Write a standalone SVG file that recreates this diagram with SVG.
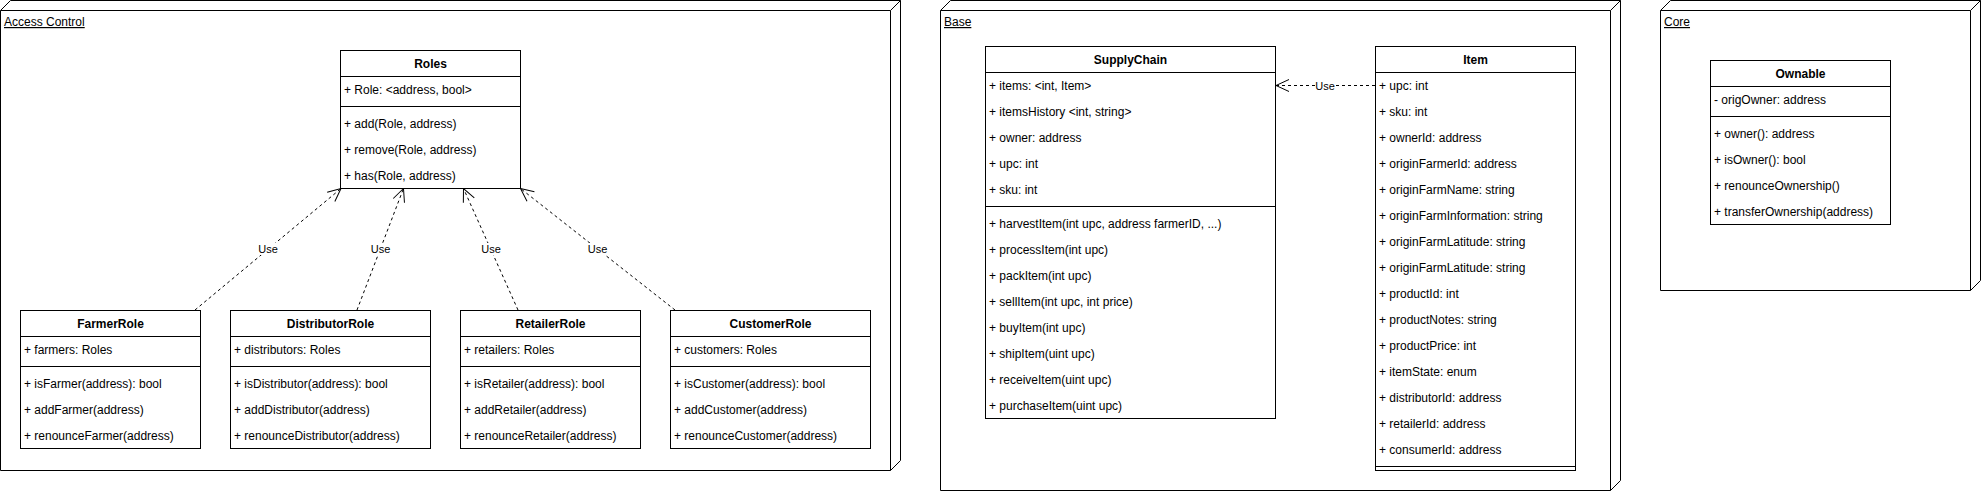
<svg xmlns="http://www.w3.org/2000/svg" width="1981" height="491" viewBox="0 0 1981 491">
<defs>
<style>
.frame{fill:#fff;stroke:#000;stroke-width:1}
.inner{fill:none;stroke:#000;stroke-width:1}
.box{fill:#fff;stroke:#000;stroke-width:1}
.sep{stroke:#000;stroke-width:1}
text{font-family:"Liberation Sans",Arial,Helvetica,sans-serif;font-size:12px;fill:#000}
.title{font-weight:bold;text-anchor:middle}
.pkg{text-decoration:underline}
.edge{fill:none;stroke:#000;stroke-width:1;stroke-dasharray:3 3;marker-end:url(#open)}
.lblbg{fill:#fff;stroke:none}
.elabel{font-size:11px;text-anchor:middle}
</style>
<marker id="open" markerUnits="userSpaceOnUse" viewBox="-15 -8 16 16" markerWidth="16" markerHeight="16" refX="0" refY="0" orient="auto" overflow="visible">
<path d="M-13,-6 L0,0 L-13,6" fill="none" stroke="#000" stroke-width="1" stroke-dasharray="none"/>
</marker>
</defs>

<g id="frame-access-control">
<path class="frame" d="M0.5,10.5 L10.5,0.5 L900.5,0.5 L900.5,460.5 L890.5,470.5 L0.5,470.5 Z"/>
<path class="inner" d="M0.5,10.5 L890.5,10.5 L900.5,0.5 M890.5,10.5 L890.5,470.5"/>
<text class="pkg" x="4" y="26">Access Control</text>
</g>

<g id="frame-base">
<path class="frame" d="M940.5,10.5 L950.5,0.5 L1620.5,0.5 L1620.5,480.5 L1610.5,490.5 L940.5,490.5 Z"/>
<path class="inner" d="M940.5,10.5 L1610.5,10.5 L1620.5,0.5 M1610.5,10.5 L1610.5,490.5"/>
<text class="pkg" x="944" y="26">Base</text>
</g>

<g id="frame-core">
<path class="frame" d="M1660.5,10.5 L1670.5,0.5 L1980.5,0.5 L1980.5,280.5 L1970.5,290.5 L1660.5,290.5 Z"/>
<path class="inner" d="M1660.5,10.5 L1970.5,10.5 L1980.5,0.5 M1970.5,10.5 L1970.5,290.5"/>
<text class="pkg" x="1664" y="26">Core</text>
</g>

<g id="connectors">
<path class="edge" d="M195,310 L341,188.5"/>
<path class="edge" d="M357,310 L403.5,188.5"/>
<path class="edge" d="M518,310 L463.5,188.5"/>
<path class="edge" d="M675,310 L520.5,188.5"/>
<path class="edge" d="M1375,85.5 L1276,85.5"/>
<rect class="lblbg" x="258" y="243" width="20" height="12"/>
<text class="elabel" x="268" y="253">Use</text>
<rect class="lblbg" x="370.5" y="243" width="20" height="12"/>
<text class="elabel" x="380.5" y="253">Use</text>
<rect class="lblbg" x="481" y="243" width="20" height="12"/>
<text class="elabel" x="491" y="253">Use</text>
<rect class="lblbg" x="587.5" y="243" width="20" height="12"/>
<text class="elabel" x="597.5" y="253">Use</text>
<rect class="lblbg" x="1315" y="79.5" width="20" height="12"/>
<text class="elabel" x="1325" y="89.5">Use</text>
</g>

<g id="node-roles">
<rect class="box" x="340.5" y="50.5" width="180" height="138"/>
<line class="sep" x1="340.5" y1="76.5" x2="520.5" y2="76.5"/>
<line class="sep" x1="340.5" y1="106.5" x2="520.5" y2="106.5"/>
<text class="title" x="430.5" y="67.7">Roles</text>
<text x="344" y="93.7">+ Role: &lt;address, bool&gt;</text>
<text x="344" y="127.7">+ add(Role, address)</text>
<text x="344" y="153.7">+ remove(Role, address)</text>
<text x="344" y="179.7">+ has(Role, address)</text>
</g>

<g id="node-farmerrole">
<rect class="box" x="20.5" y="310.5" width="180" height="138"/>
<line class="sep" x1="20.5" y1="336.5" x2="200.5" y2="336.5"/>
<line class="sep" x1="20.5" y1="366.5" x2="200.5" y2="366.5"/>
<text class="title" x="110.5" y="327.7">FarmerRole</text>
<text x="24" y="353.7">+ farmers: Roles</text>
<text x="24" y="387.7">+ isFarmer(address): bool</text>
<text x="24" y="413.7">+ addFarmer(address)</text>
<text x="24" y="439.7">+ renounceFarmer(address)</text>
</g>

<g id="node-distributorrole">
<rect class="box" x="230.5" y="310.5" width="200" height="138"/>
<line class="sep" x1="230.5" y1="336.5" x2="430.5" y2="336.5"/>
<line class="sep" x1="230.5" y1="366.5" x2="430.5" y2="366.5"/>
<text class="title" x="330.5" y="327.7">DistributorRole</text>
<text x="234" y="353.7">+ distributors: Roles</text>
<text x="234" y="387.7">+ isDistributor(address): bool</text>
<text x="234" y="413.7">+ addDistributor(address)</text>
<text x="234" y="439.7">+ renounceDistributor(address)</text>
</g>

<g id="node-retailerrole">
<rect class="box" x="460.5" y="310.5" width="180" height="138"/>
<line class="sep" x1="460.5" y1="336.5" x2="640.5" y2="336.5"/>
<line class="sep" x1="460.5" y1="366.5" x2="640.5" y2="366.5"/>
<text class="title" x="550.5" y="327.7">RetailerRole</text>
<text x="464" y="353.7">+ retailers: Roles</text>
<text x="464" y="387.7">+ isRetailer(address): bool</text>
<text x="464" y="413.7">+ addRetailer(address)</text>
<text x="464" y="439.7">+ renounceRetailer(address)</text>
</g>

<g id="node-customerrole">
<rect class="box" x="670.5" y="310.5" width="200" height="138"/>
<line class="sep" x1="670.5" y1="336.5" x2="870.5" y2="336.5"/>
<line class="sep" x1="670.5" y1="366.5" x2="870.5" y2="366.5"/>
<text class="title" x="770.5" y="327.7">CustomerRole</text>
<text x="674" y="353.7">+ customers: Roles</text>
<text x="674" y="387.7">+ isCustomer(address): bool</text>
<text x="674" y="413.7">+ addCustomer(address)</text>
<text x="674" y="439.7">+ renounceCustomer(address)</text>
</g>

<g id="node-supplychain">
<rect class="box" x="985.5" y="46.5" width="290" height="372"/>
<line class="sep" x1="985.5" y1="72.5" x2="1275.5" y2="72.5"/>
<line class="sep" x1="985.5" y1="206.5" x2="1275.5" y2="206.5"/>
<text class="title" x="1130.5" y="63.7">SupplyChain</text>
<text x="989" y="89.7">+ items: &lt;int, Item&gt;</text>
<text x="989" y="115.7">+ itemsHistory &lt;int, string&gt;</text>
<text x="989" y="141.7">+ owner: address</text>
<text x="989" y="167.7">+ upc: int</text>
<text x="989" y="193.7">+ sku: int</text>
<text x="989" y="227.7">+ harvestItem(int upc, address farmerID, ...)</text>
<text x="989" y="253.7">+ processItem(int upc)</text>
<text x="989" y="279.7">+ packItem(int upc)</text>
<text x="989" y="305.7">+ sellItem(int upc, int price)</text>
<text x="989" y="331.7">+ buyItem(int upc)</text>
<text x="989" y="357.7">+ shipItem(uint upc)</text>
<text x="989" y="383.7">+ receiveItem(uint upc)</text>
<text x="989" y="409.7">+ purchaseItem(uint upc)</text>
</g>

<g id="node-item">
<rect class="box" x="1375.5" y="46.5" width="200" height="424"/>
<line class="sep" x1="1375.5" y1="72.5" x2="1575.5" y2="72.5"/>
<line class="sep" x1="1375.5" y1="466.5" x2="1575.5" y2="466.5"/>
<text class="title" x="1475.5" y="63.7">Item</text>
<text x="1379" y="89.7">+ upc: int</text>
<text x="1379" y="115.7">+ sku: int</text>
<text x="1379" y="141.7">+ ownerId: address</text>
<text x="1379" y="167.7">+ originFarmerId: address</text>
<text x="1379" y="193.7">+ originFarmName: string</text>
<text x="1379" y="219.7">+ originFarmInformation: string</text>
<text x="1379" y="245.7">+ originFarmLatitude: string</text>
<text x="1379" y="271.7">+ originFarmLatitude: string</text>
<text x="1379" y="297.7">+ productId: int</text>
<text x="1379" y="323.7">+ productNotes: string</text>
<text x="1379" y="349.7">+ productPrice: int</text>
<text x="1379" y="375.7">+ itemState: enum</text>
<text x="1379" y="401.7">+ distributorId: address</text>
<text x="1379" y="427.7">+ retailerId: address</text>
<text x="1379" y="453.7">+ consumerId: address</text>
</g>

<g id="node-ownable">
<rect class="box" x="1710.5" y="60.5" width="180" height="164"/>
<line class="sep" x1="1710.5" y1="86.5" x2="1890.5" y2="86.5"/>
<line class="sep" x1="1710.5" y1="116.5" x2="1890.5" y2="116.5"/>
<text class="title" x="1800.5" y="77.7">Ownable</text>
<text x="1714" y="103.7">- origOwner: address</text>
<text x="1714" y="137.7">+ owner(): address</text>
<text x="1714" y="163.7">+ isOwner(): bool</text>
<text x="1714" y="189.7">+ renounceOwnership()</text>
<text x="1714" y="215.7">+ transferOwnership(address)</text>
</g>
</svg>
